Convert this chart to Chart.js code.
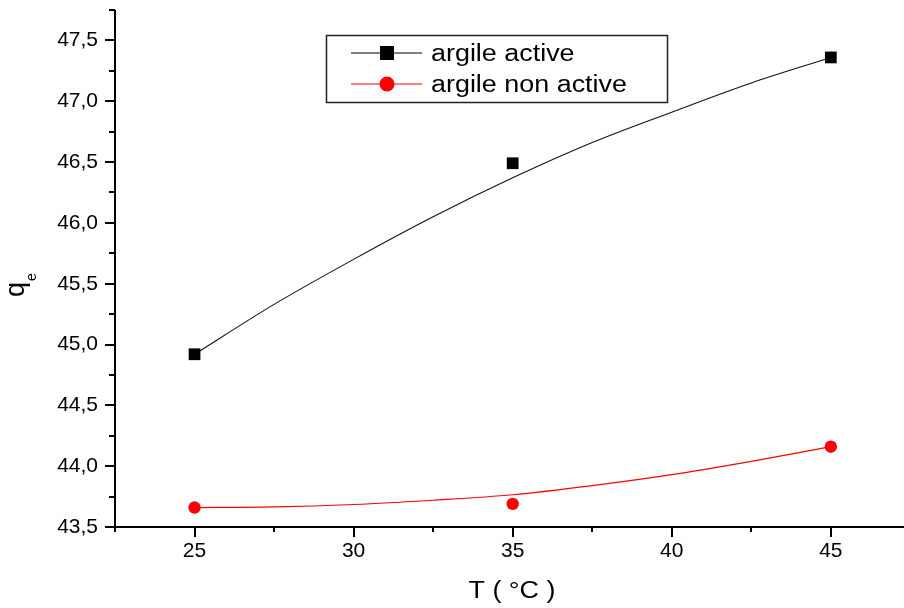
<!DOCTYPE html>
<html>
<head>
<meta charset="utf-8">
<script src="https://cdn.jsdelivr.net/npm/chart.js@4.4.1/dist/chart.umd.min.js"></script>
<style>
  html, body { margin: 0; padding: 0; background: #fff; }
  canvas { display: block; }
</style>
</head>
<body>
<canvas id="qeChart" width="904" height="608"></canvas>
<script>
// measured points
const temps = [25, 35, 45];
const activeQe = [44.92, 46.49, 47.36];
const inactiveQe = [43.66, 43.69, 44.16];

// fitted curves
const fitT = [25, 27.5, 30, 32.5, 35, 37.5, 40, 42.5, 45];
const activeFit = [44.92, 45.33, 45.70, 46.05, 46.37, 46.66, 46.91, 47.15, 47.36];
const inactiveFit = [43.66, 43.665, 43.685, 43.72, 43.765, 43.84, 43.93, 44.04, 44.16];

const seriesNames = ['argile active', 'argile non active'];
const seriesColors = ['#000000', '#ff0000'];
const xTitle = 'T ( °C )';
const FONT = '"Liberation Sans", Arial, sans-serif';
const SX = 1.17; // text in the picture is a bit wider than Arial

const toXY = (xs, ys) => xs.map((v, i) => ({ x: v, y: ys[i] }));

function stretchedText(ctx, txt, x, y, size, align) {
    ctx.save();
    ctx.font = size + 'px ' + FONT;
    const w = ctx.measureText(txt).width * SX;
    let x0 = x;
    if (align === 'center') x0 = x - w / 2;
    if (align === 'right') x0 = x - w;
    ctx.translate(x0, y);
    ctx.scale(SX, 1);
    ctx.textAlign = 'left';
    ctx.fillText(txt, 0, 0);
    ctx.restore();
}

// axes lines + major/minor ticks, titles, legend
const decorPlugin = {
    id: 'decor',
    afterDraw(chart) {
        const { ctx, chartArea: a, scales: { x, y } } = chart;
        ctx.save();
        ctx.strokeStyle = '#000';
        ctx.lineWidth = 2;
        ctx.beginPath();
        ctx.moveTo(a.left, a.top);
        ctx.lineTo(a.left, a.bottom + 1);
        ctx.moveTo(a.left - 1, a.bottom);
        ctx.lineTo(a.right, a.bottom);
        x.ticks.forEach(t => {
            const k = t.value / 2.5;
            if (Math.abs(k - Math.round(k)) > 1e-6) return;
            const px = Math.round(x.getPixelForValue(t.value));
            const major = Math.round(k) % 2 === 0;
            ctx.moveTo(px, a.bottom);
            ctx.lineTo(px, a.bottom + (major ? 10 : 5));
        });
        y.ticks.forEach(t => {
            const k = Math.round(t.value * 4);
            const py = Math.round(y.getPixelForValue(t.value));
            const major = k % 2 === 0;
            ctx.moveTo(a.left, py);
            ctx.lineTo(a.left - (major ? 10 : 6), py);
        });
        ctx.stroke();

        // x title
        ctx.fillStyle = '#000';
        stretchedText(ctx, xTitle, 512, 598, 23, 'center');

        // y title q with subscript e
        ctx.save();
        ctx.translate(24, 297);
        ctx.rotate(-Math.PI / 2);
        ctx.font = '27px ' + FONT;
        ctx.textAlign = 'left';
        ctx.fillText('q', 0, 0);
        const qw = ctx.measureText('q').width;
        ctx.font = '14px ' + FONT;
        ctx.fillText('e', qw + 1, 12);
        ctx.restore();

        // legend
        const lx = 326.5, ly = 35.5, lw = 341, lh = 67;
        ctx.lineWidth = 1.5;
        ctx.strokeStyle = '#222';
        ctx.strokeRect(lx, ly, lw, lh);
        const rows = [53, 84];
        seriesNames.forEach((name, i) => {
            const ry = rows[i];
            ctx.strokeStyle = seriesColors[i];
            ctx.lineWidth = 1.2;
            ctx.beginPath();
            ctx.moveTo(351, ry);
            ctx.lineTo(422, ry);
            ctx.stroke();
            ctx.fillStyle = seriesColors[i];
            if (i === 0) {
                ctx.fillRect(380, ry - 7, 14, 14);
            } else {
                ctx.beginPath();
                ctx.arc(387, ry, 7.5, 0, Math.PI * 2);
                ctx.fill();
            }
            ctx.fillStyle = '#000';
            stretchedText(ctx, name, 431, ry + 8, 23, 'left');
        });
        ctx.restore();
    }
};

const ctx = document.getElementById('qeChart').getContext('2d');
const qeChart = new Chart(ctx, {
    type: 'scatter',
    data: {
        datasets: [
            {
                label: seriesNames[0],
                data: toXY(temps, activeQe),
                pointStyle: 'rect',
                pointRadius: 8.3,
                pointBackgroundColor: seriesColors[0],
                pointBorderColor: seriesColors[0],
                pointBorderWidth: 0,
                showLine: false,
                order: 0
            },
            {
                label: seriesNames[1],
                data: toXY(temps, inactiveQe),
                pointStyle: 'circle',
                pointRadius: 6.2,
                pointBackgroundColor: seriesColors[1],
                pointBorderColor: seriesColors[1],
                pointBorderWidth: 0,
                showLine: false,
                order: 0
            },
            {
                label: 'fit active',
                data: toXY(fitT, activeFit),
                showLine: true,
                pointRadius: 0,
                borderColor: '#111',
                borderWidth: 1.1,
                cubicInterpolationMode: 'monotone',
                order: 1
            },
            {
                label: 'fit non active',
                data: toXY(fitT, inactiveFit),
                showLine: true,
                pointRadius: 0,
                borderColor: '#ff0000',
                borderWidth: 1.2,
                cubicInterpolationMode: 'monotone',
                order: 1
            }
        ]
    },
    options: {
        responsive: false,
        animation: false,
        devicePixelRatio: 1,
        layout: { autoPadding: false, padding: { top: 10, right: 0, left: 0, bottom: 0 } },
        plugins: {
            legend: { display: false },
            tooltip: { enabled: false }
        },
        scales: {
            x: {
                type: 'linear',
                min: 22.5,
                max: 47.3,
                grid: { display: false, drawTicks: false },
                border: { display: false },
                ticks: {
                    stepSize: 2.5,
                    includeBounds: false,
                    padding: 12,
                    color: '#000',
                    font: { family: FONT, size: 21 },
                    maxRotation: 0,
                    autoSkip: false,
                    callback: v => (Math.abs(v % 5) < 1e-6 ? String(v) : '')
                },
                afterFit: s => {
                    s.height = 81;
                    s.paddingLeft = 0;
                    s.paddingRight = 0;
                }
            },
            y: {
                type: 'linear',
                min: 43.5,
                max: 47.75,
                grid: { display: false, drawTicks: false },
                border: { display: false },
                ticks: {
                    stepSize: 0.25,
                    padding: 17,
                    color: '#000',
                    font: { family: FONT, size: 21 },
                    autoSkip: false,
                    callback: v => (Math.round(v * 4) % 2 === 0 ? v.toFixed(1).replace('.', ',') : '')
                },
                afterFit: s => {
                    s.width = 115;
                    s.paddingTop = 0;
                    s.paddingBottom = 0;
                }
            }
        }
    },
    plugins: [decorPlugin]
});
</script>
</body>
</html>
